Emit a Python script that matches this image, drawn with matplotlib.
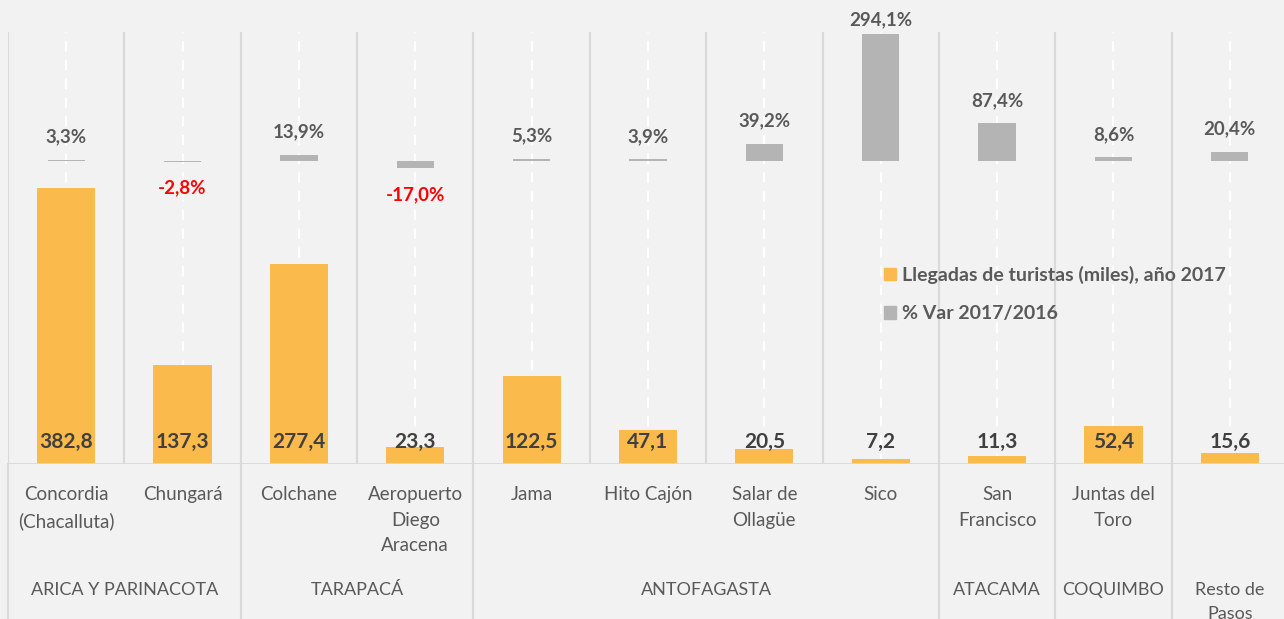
import numpy as np
import matplotlib
matplotlib.use('Agg')
import matplotlib.pyplot as plt
from matplotlib.patches import Patch

plt.rcParams['font.family'] = ['Lato', 'DejaVu Sans']

# data
cats = ['Concordia\n(Chacalluta)', 'Chungará', 'Colchane', 'Aeropuerto\nDiego\nAracena', 'Jama',
        'Hito Cajón', 'Salar de\nOllagüe', 'Sico', 'San\nFrancisco', 'Juntas del\nToro', '']
arrivals = [382.8, 137.3, 277.4, 23.3, 122.5, 47.1, 20.5, 7.2, 11.3, 52.4, 15.6]
var_pct = [3.3, -2.8, 13.9, -17.0, 5.3, 3.9, 39.2, 294.1, 87.4, 8.6, 20.4]
groups = ['ARICA Y PARINACOTA', 'TARAPACÁ', 'ANTOFAGASTA', 'ATACAMA', 'COQUIMBO', 'Resto de\nPasos']
group_sizes = [2, 2, 4, 1, 1, 1]

bg = '#F2F2F2'
orange = '#FBBA4C'
grey = '#B4B4B4'
sep = '#D9D9D9'
txt = '#595959'

W, H = 1284, 619
fig = plt.figure(figsize=(W / 100, H / 100), dpi=100, facecolor=bg)
ax = fig.add_axes([8 / W, 1 - 464 / H, 1280 / W, 432 / H])
ax.set_facecolor(bg)
x = np.arange(len(cats))

ax.bar(x, arrivals, width=0.5, color=orange, zorder=2)
ax.set_xlim(-0.5, len(cats) - 0.5)
ax.set_ylim(0, 599)
ax.set_xticks(x)
ax.grid(axis='x', color='white', linestyle=(0, (5, 4)), linewidth=1.5, zorder=0)
ax.tick_params(length=0, labelbottom=False, labelleft=False)
for s in ax.spines.values():
    s.set_visible(False)
ax.axhline(0, color=sep, linewidth=2, zorder=3)

# separators between categories
for b in np.arange(-0.5, len(cats), 1.0):
    ax.axvline(b, color=sep, linewidth=1.5, zorder=1)

# secondary axis: % variation
ax2 = ax.twinx()
ax2.bar(x, var_pct, width=0.32, color=grey, zorder=2)
ax2.set_ylim(-702, 299)
ax2.tick_params(length=0, labelright=False)
for s in ax2.spines.values():
    s.set_visible(False)

fmt = lambda v: f'{v:.1f}'.replace('.', ',')

for xi, v in zip(x, arrivals):
    ax.annotate(fmt(v), (xi, 0), xytext=(0, 22), textcoords='offset pixels',
                ha='center', va='center', fontsize=15, fontweight='bold', color='#404040', zorder=5)

for xi, v in zip(x, var_pct):
    if v >= 0:
        ytop = ax2.transData.transform((xi, v))[1]
        off = min(23, (H - 20) - ytop)
        ax2.annotate(fmt(v) + '%', (xi, v), xytext=(0, off), textcoords='offset pixels',
                     ha='center', va='center', fontsize=13.5, fontweight='bold', color=txt)
    else:
        ax2.annotate(fmt(v) + '%', (xi, v), xytext=(0, -26), textcoords='offset pixels',
                     ha='center', va='center', fontsize=13.5, fontweight='bold', color='#FF0000')

# category labels
tr = ax.get_xaxis_transform()
for xi, c in zip(x, cats):
    ax.text(xi, -22 / 432, c, transform=tr, ha='center', va='top', fontsize=13.5,
            color=txt, linespacing=1.62)

# group labels and group separators
start = 0
ax.plot([-0.5, -0.5], [0, -0.36], transform=tr, color=sep, linewidth=1.5, clip_on=False)
for g, n in zip(groups, group_sizes):
    mid = start + (n - 1) / 2
    ax.text(mid, -118 / 432, g, transform=tr, ha='center', va='top', fontsize=13,
            color=txt, linespacing=1.62)
    start += n
    ax.plot([start - 0.5, start - 0.5], [0, -0.36], transform=tr, color=sep,
            linewidth=1.5, clip_on=False)

handles = [Patch(color=orange, label='Llegadas de turistas (miles), año 2017'),
           Patch(color=grey, label='% Var 2017/2016')]
leg = fig.legend(handles=handles, loc='upper left', bbox_to_anchor=(884 / W, 1 - 266 / H),
                 frameon=False, fontsize=14, borderpad=0, borderaxespad=0,
                 handlelength=0.62, handleheight=0.6, handletextpad=0.3, labelspacing=1.1)
for t in leg.get_texts():
    t.set_fontweight('bold')
    t.set_color(txt)

fig.savefig('out.png', dpi=100, facecolor=bg)
